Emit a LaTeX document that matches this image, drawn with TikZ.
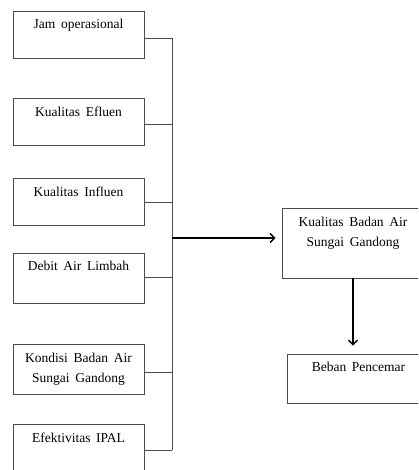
\documentclass[tikz,border=0pt]{standalone}
\usepackage{fontspec}
\setmainfont{Liberation Serif}
\usetikzlibrary{arrows.meta,calc}
\newcommand\widesp{\spaceskip=0.42em\relax}
\begin{document}
\begin{tikzpicture}[x=1pt,y=-1pt,
  box/.style={draw=black!70, line width=0.9pt, inner sep=0pt, rectangle},
  lbl/.style={font=\fontsize{13.5}{20}\selectfont, align=center, inner sep=0pt, anchor=base, execute at begin node=\widesp},
  conn/.style={draw=black!70, line width=0.9pt},
  arr/.style={draw=black, line width=1.4pt, -{Straight Barb[length=4.5pt,width=9pt,line width=1.4pt]}}]
\path[use as bounding box] (0,0) rectangle (418,470);
\clip (0,0) rectangle (418,470);
% left boxes
\node[box, minimum width=131pt, minimum height=47pt] (b1) at (78.5,34.5) {};
\node[box, minimum width=131pt, minimum height=47pt] (b2) at (78.5,121.5) {};
\node[box, minimum width=131pt, minimum height=47pt] (b3) at (78.5,201.5) {};
\node[box, minimum width=131pt, minimum height=50pt] (b4) at (78.5,278) {};
\node[box, minimum width=131pt, minimum height=50pt] (b5) at (78.5,369) {};
\node[box, minimum width=131pt, minimum height=50pt] (b6) at (78.5,449) {};
% right boxes
\node[box, minimum width=142pt, minimum height=70pt] (r1) at (353,243) {};
\node[box, minimum width=143pt, minimum height=49pt] (r2) at (358.5,378.5) {};
% texts
\node[lbl] (t1) at ($(b1.north)+(0,18)$) {Jam operasional};
\node[lbl] (t2) at ($(b2.north)+(0,18.5)$) {Kualitas Efluen};
\node[lbl] (t3) at ($(b3.north)+(0,18.5)$) {Kualitas Influen};
\node[lbl] (t4) at ($(b4.north)+(0,18)$) {Debit Air Limbah};
\node[lbl] (t5) at ($(b5.north)+(0,39)$) {Kondisi Badan Air\\Sungai Gandong};
\node[lbl] (t6) at ($(b6.north)+(0,18.5)$) {Efektivitas IPAL};
\node[lbl] (t7) at ($(r1.north)+(0,39)$) {Kualitas Badan Air\\Sungai Gandong};
\node[lbl] (t8) at ($(r2.north)+(0,18)$) {Beban Pencemar};
% bus
\coordinate (bt) at (172,38);
\coordinate (bb) at (172,450);
\draw[conn] (bt) -- (bb);
\draw[conn] ([yshift=-3.5pt]b1.east) coordinate (c1) -- (c1 -| bt);
\draw[conn] ([yshift=-2.5pt]b2.east) coordinate (c2) -- (c2 -| bt);
\draw[conn] ([yshift=-0.5pt]b3.east) coordinate (c3) -- (c3 -| bt);
\draw[conn] ([yshift=1pt]b4.east) coordinate (c4) -- (c4 -| bt);
\draw[conn] ([yshift=-3pt]b5.east) coordinate (c5) -- (c5 -| bt);
\draw[conn] ([yshift=-1pt]b6.east) coordinate (c6) -- (c6 -| bt);
% arrows
\coordinate (ar) at (172,238);
\draw[arr, shorten >=6pt] (ar) -- (ar -| r1.west);
\draw[arr, shorten >=8pt] (r1.south) -- (r2.north -| r1.south);
\end{tikzpicture}
\end{document}
